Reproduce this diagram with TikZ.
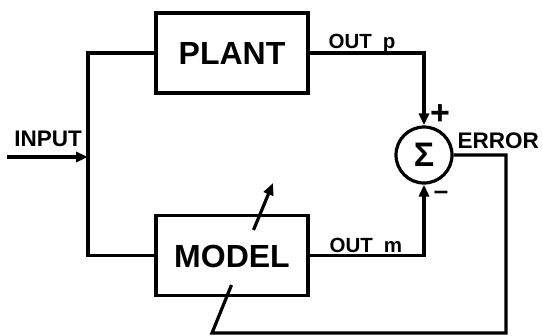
\documentclass[tikz,border=0pt]{standalone}
\usepackage{fontspec}
\setmainfont{Liberation Sans}
\usetikzlibrary{arrows.meta}
\newcommand{\fsize}[1]{\bfseries\fontsize{#1}{#1}\selectfont}
\begin{document}
\begin{tikzpicture}[x=1pt,y=-1pt, line width=3.2pt,
  block/.style={draw, minimum width=152pt, minimum height=80pt, inner sep=0pt,
    font=\fsize{32pt}, text height=23pt, text depth=0pt},
  smalllabel/.style={inner sep=0pt, font=\fsize{20.5pt}},
  biglabel/.style={inner sep=0pt, font=\fsize{22.5pt}},
  signlabel/.style={inner sep=0pt, font=\fsize{34pt}},
  sumnode/.style={draw, circle, minimum size=56pt, inner sep=0pt, font=\fsize{34pt}},
  arr/.style={-{Triangle[length=12pt,width=10pt]}},
  wire/.style={line join=miter}
]
\useasboundingbox (0,0) rectangle (543,335);
\node[block] (plant) at (232,53) {PLANT};
\node[block] (model) at (232,255.5) {MODEL};
\node[sumnode] (sum) at (424,155) {Σ};

\coordinate (inp) at (7,157);
\coordinate (split) at (88,157);
\coordinate (tl) at (88,53);
\coordinate (bl) at (88,255.5);
\coordinate (er) at (506,155);
\coordinate (eb) at (506,333);
\coordinate (adjA) at (212,333);
\coordinate (adjB) at (231.5,285);
\coordinate (adjC) at (253.5,230);
\coordinate (adjD) at (273,183);

\draw[arr] (inp) -- (split);
\draw[wire] (plant.west) -- (tl) -- (bl) -- (model.west);
\draw[wire,arr] (plant.east) -| (sum.north);
\draw[wire,arr] (model.east) -| (sum.south);
\draw[wire] (sum.east) -- (er) -- (eb) -- (adjA) -- (adjB);
\draw[arr] (adjC) -- (adjD);

\node[smalllabel, anchor=base west] (outp) at (327,48) {OUT\hspace{11pt}p};
\node[smalllabel, anchor=base west] (outm) at (328,252) {OUT\hspace{11pt}m};
\node[biglabel, anchor=base west] (err) at (456,148) {ERROR};
\node[biglabel, anchor=base] (inl) at (48,146) {INPUT};
\node[signlabel] (plus) at (440,115) {+};
\node[signlabel, font=\fsize{26pt}] (minus) at (441,195) {–};
\end{tikzpicture}
\end{document}
